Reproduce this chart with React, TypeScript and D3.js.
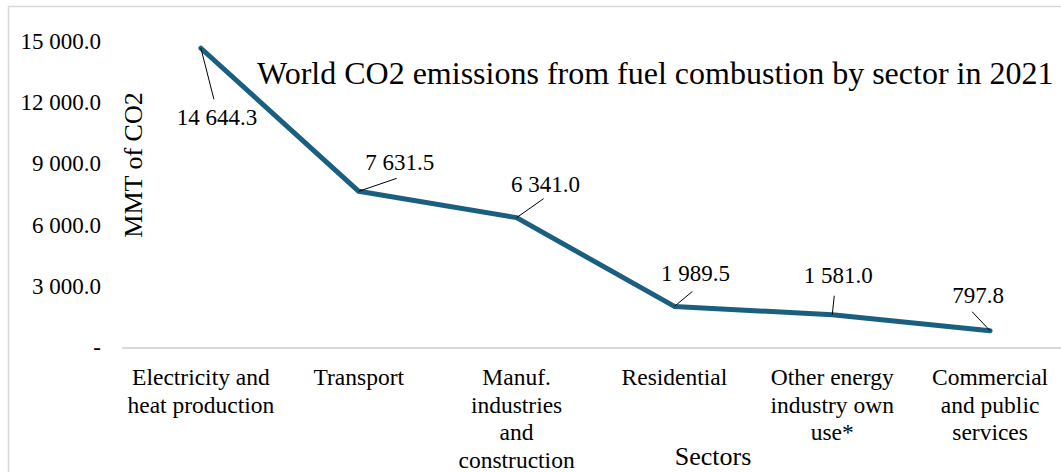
import React from "react";
import * as d3 from "d3";

// Sectors (multi-line tick labels) and their 2021 emissions, MMT of CO2
const sectors: string[][] = [
  ["Electricity and", "heat production"],
  ["Transport"],
  ["Manuf.", "industries", "and", "construction"],
  ["Residential"],
  ["Other energy", "industry own", "use*"],
  ["Commercial", "and public", "services"],
];
const emissions: number[] = [14644.3, 7631.5, 6341.0, 1989.5, 1581.0, 797.8];
const yTicks: number[] = [0, 3000, 6000, 9000, 12000, 15000];

// Placement of each data label relative to its point: [label dx, label dy, leader dx, leader dy]
const labelPlacement: [number, number, number, number][] = [
  [16, 69, 13, 51],
  [41, -29, 38, -13],
  [29, -34, 27, -19],
  [21, -33, 18, -15],
  [6, -40, 2, -19],
  [-12, -36, -18, -19],
];

const W = 1061;
const H = 472;
const FONT = "Liberation Serif, DejaVu Serif, serif";
const LINE_COLOR = "#1a5f80";
const GRID_COLOR = "#d9d9d9";

const fmt = (v: number) => {
  if (v === 0) return "-";
  const s = d3.format(",.1f")(v);
  return s.replace(/,/g, " ");
};

const txt: React.CSSProperties = { fontFamily: FONT };

export default function App() {
  const keys = sectors.map((_, i) => String(i));
  // plot area runs past the right edge of the frame
  const x = d3.scaleBand<string>().domain(keys).range([122, 1069]);
  const cx = (i: number) => (x(String(i)) as number) + x.bandwidth() / 2;
  const y = d3.scaleLinear().domain([0, 15000]).range([347, 41]);

  const pts: [number, number][] = emissions.map((v, i) => [cx(i), y(v)]);
  const line = d3.line<[number, number]>().x((d) => d[0]).y((d) => d[1]);

  return (
    <svg
      width={W}
      height={H}
      style={{ position: "absolute", left: 0, top: 0, background: "#fff", fontFamily: FONT }}
    >
      <rect x={0} y={0} width={W} height={H} fill="#fff" />
      {/* chart frame */}
      <rect x={8.5} y={6.5} width={W + 20} height={H + 20} fill="none" stroke={GRID_COLOR} strokeWidth={1.5} />

      {/* y tick labels */}
      {yTicks.map((t) => (
        <text key={t} x={101} y={y(t)} dy="0.35em" textAnchor="end" fontSize={23} fill="#000" style={txt}>
          {fmt(t)}
        </text>
      ))}

      {/* y axis title */}
      <text
        transform={`translate(142,165) rotate(-90)`}
        textAnchor="middle"
        fontSize={26}
        fill="#000"
        style={txt}
      >
        MMT of CO2
      </text>

      {/* category axis */}
      <line x1={122} x2={W + 20} y1={y(0) + 1} y2={y(0) + 1} stroke={GRID_COLOR} strokeWidth={2} />
      {sectors.map((lines, i) => (
        <text key={i} x={cx(i)} y={385} textAnchor="middle" fontSize={23.5} fill="#000" style={txt}>
          {lines.map((l, j) => (
            <tspan key={j} x={cx(i)} dy={j === 0 ? 0 : 27.5}>
              {l}
            </tspan>
          ))}
        </text>
      ))}
      <text x={713} y={465} textAnchor="middle" fontSize={26} fill="#000" style={txt}>
        Sectors
      </text>

      {/* title */}
      <text x={257} y={84} fontSize={32} fill="#000" style={txt}>
        World CO2 emissions from fuel combustion by sector in 2021
      </text>

      {/* series line */}
      <path
        d={line(pts) || ""}
        fill="none"
        stroke={LINE_COLOR}
        strokeWidth={5}
        strokeLinejoin="round"
        strokeLinecap="round"
      />

      {/* data labels with leader lines */}
      {pts.map(([px, py], i) => {
        const [ldx, ldy, kdx, kdy] = labelPlacement[i];
        return (
          <g key={i}>
            <line x1={px} y1={py} x2={px + kdx} y2={py + kdy} stroke="#000" strokeWidth={1} />
            <text x={px + ldx} y={py + ldy} dy="0.35em" textAnchor="middle" fontSize={23} fill="#000" style={txt}>
              {fmt(emissions[i])}
            </text>
          </g>
        );
      })}
    </svg>
  );
}
